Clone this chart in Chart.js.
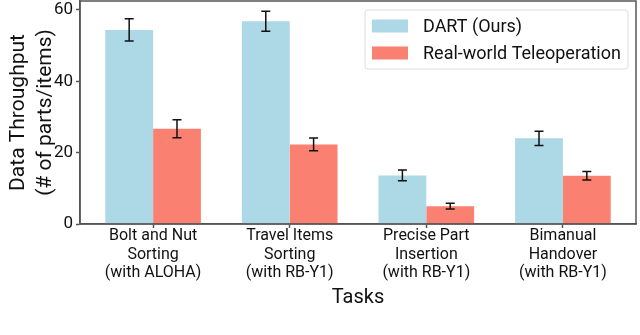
<!DOCTYPE html>
<html>
<head>
<meta charset="utf-8">
<script src="https://cdn.jsdelivr.net/npm/chart.js@4/dist/chart.umd.min.js"></script>
<style>
  html, body { margin: 0; padding: 0; background: #fff; }
  #wrap { width: 640px; height: 335px; }
</style>
</head>
<body>
<div id="wrap"><canvas id="throughputChart"></canvas></div>
<script>
// data
const tasks = [
    ['Bolt and Nut', 'Sorting', '(with ALOHA)'],
    ['Travel Items', 'Sorting', '(with RB-Y1)'],
    ['Precise Part', 'Insertion', '(with RB-Y1)'],
    ['Bimanual', 'Handover', '(with RB-Y1)']
];
const dartValues = [54.4, 56.8, 13.6, 24.0];
const dartErrors = [3.1, 2.8, 1.5, 2.0];
const teleopValues = [26.7, 22.3, 5.0, 13.5];
const teleopErrors = [2.5, 1.8, 0.8, 1.2];
const yTicks = [0, 20, 40, 60];

const FONT = 'Roboto';
const AXIS_COLOR = '#555';

// black error bars with caps
const errorBars = {
    id: 'errorBars',
    afterDatasetsDraw(chart) {
        const ctx = chart.ctx;
        const y = chart.scales.y;
        ctx.save();
        ctx.strokeStyle = '#111';
        ctx.lineWidth = 1.5;
        chart.data.datasets.forEach((ds, di) => {
            const meta = chart.getDatasetMeta(di);
            meta.data.forEach((bar, i) => {
                const v = ds.data[i].y, e = ds.errors[i];
                const top = y.getPixelForValue(v + e);
                const bot = y.getPixelForValue(v - e);
                const cap = 4.5;
                ctx.beginPath();
                ctx.moveTo(bar.x, top); ctx.lineTo(bar.x, bot);
                ctx.moveTo(bar.x - cap, top); ctx.lineTo(bar.x + cap, top);
                ctx.moveTo(bar.x - cap, bot); ctx.lineTo(bar.x + cap, bot);
                ctx.stroke();
            });
        });
        ctx.restore();
    }
};

// box around the plot + legend in the upper right
const frameAndLegend = {
    id: 'frameAndLegend',
    afterDraw(chart) {
        const ctx = chart.ctx;
        const a = chart.chartArea;
        ctx.save();
        ctx.strokeStyle = AXIS_COLOR;
        ctx.lineWidth = 1.5;
        ctx.strokeRect(a.left, a.top, a.right - a.left, a.bottom - a.top);

        const w = 263, h = 59;
        const bx = a.right - 8 - w, by = a.top + 9;
        ctx.beginPath();
        ctx.roundRect(bx, by, w, h, 3);
        ctx.fillStyle = 'rgba(255,255,255,0.85)';
        ctx.fill();
        ctx.strokeStyle = '#ddd';
        ctx.lineWidth = 1;
        ctx.stroke();

        ctx.font = '18px ' + FONT;
        ctx.textBaseline = 'middle';
        chart.data.datasets.forEach((ds, i) => {
            const cy = by + 16 + i * 27;
            ctx.fillStyle = ds.backgroundColor;
            ctx.fillRect(bx + 7, cy - 6.5, 36, 13);
            ctx.fillStyle = '#111';
            ctx.fillText(ds.label, bx + 58, cy + 1);
        });
        ctx.restore();
    }
};

new Chart(document.getElementById('throughputChart'), {
    type: 'bar',
    data: {
        datasets: [
            {
                label: 'DART (Ours)',
                data: dartValues.map((v, i) => ({ x: i, y: v })),
                errors: dartErrors,
                backgroundColor: '#add8e6'
            },
            {
                label: 'Real-world Teleoperation',
                data: teleopValues.map((v, i) => ({ x: i, y: v })),
                errors: teleopErrors,
                backgroundColor: '#fa8072'
            }
        ]
    },
    options: {
        responsive: true,
        maintainAspectRatio: false,
        animation: false,
        layout: { padding: { top: 1, right: 4, left: 0, bottom: 0 } },
        datasets: { bar: { categoryPercentage: 0.7, barPercentage: 1.0 } },
        plugins: { legend: { display: false }, tooltip: { enabled: false } },
        scales: {
            x: {
                type: 'linear',
                offset: false,
                min: -0.535,
                max: 3.535,
                afterBuildTicks: s => { s.ticks = tasks.map((t, i) => ({ value: i })); },
                afterFit: s => { s.height = 111; s.paddingLeft = 0; s.paddingRight = 0; },
                grid: { offset: false, drawOnChartArea: false, tickLength: 4, color: AXIS_COLOR, tickWidth: 1.5 },
                border: { color: AXIS_COLOR, width: 1.5 },
                ticks: {
                    callback: v => tasks[v],
                    color: '#111',
                    font: { family: FONT, size: 16, lineHeight: 1.15 },
                    padding: -1,
                    maxRotation: 0
                },
                title: {
                    display: true,
                    text: 'Tasks',
                    color: '#111',
                    font: { family: FONT, size: 20, lineHeight: 1.2 },
                    padding: { top: 0, bottom: 25 }
                }
            },
            y: {
                min: 0,
                max: 62.5,
                afterBuildTicks: s => { s.ticks = yTicks.map(v => ({ value: v })); },
                afterFit: s => { s.width = 80; s.paddingTop = 0; s.paddingBottom = 0; },
                grid: { drawOnChartArea: false, tickLength: 4, color: AXIS_COLOR, tickWidth: 1.5 },
                border: { color: AXIS_COLOR, width: 1.5 },
                ticks: {
                    color: '#111',
                    font: { family: FONT, size: 17 },
                    padding: 3
                },
                title: {
                    display: true,
                    text: ['Data Throughput', '(# of parts/items)'],
                    color: '#111',
                    font: { family: FONT, size: 21, lineHeight: 1.25 },
                    padding: { top: 6, bottom: 0 }
                }
            }
        }
    },
    plugins: [errorBars, frameAndLegend]
});
</script>
</body>
</html>
